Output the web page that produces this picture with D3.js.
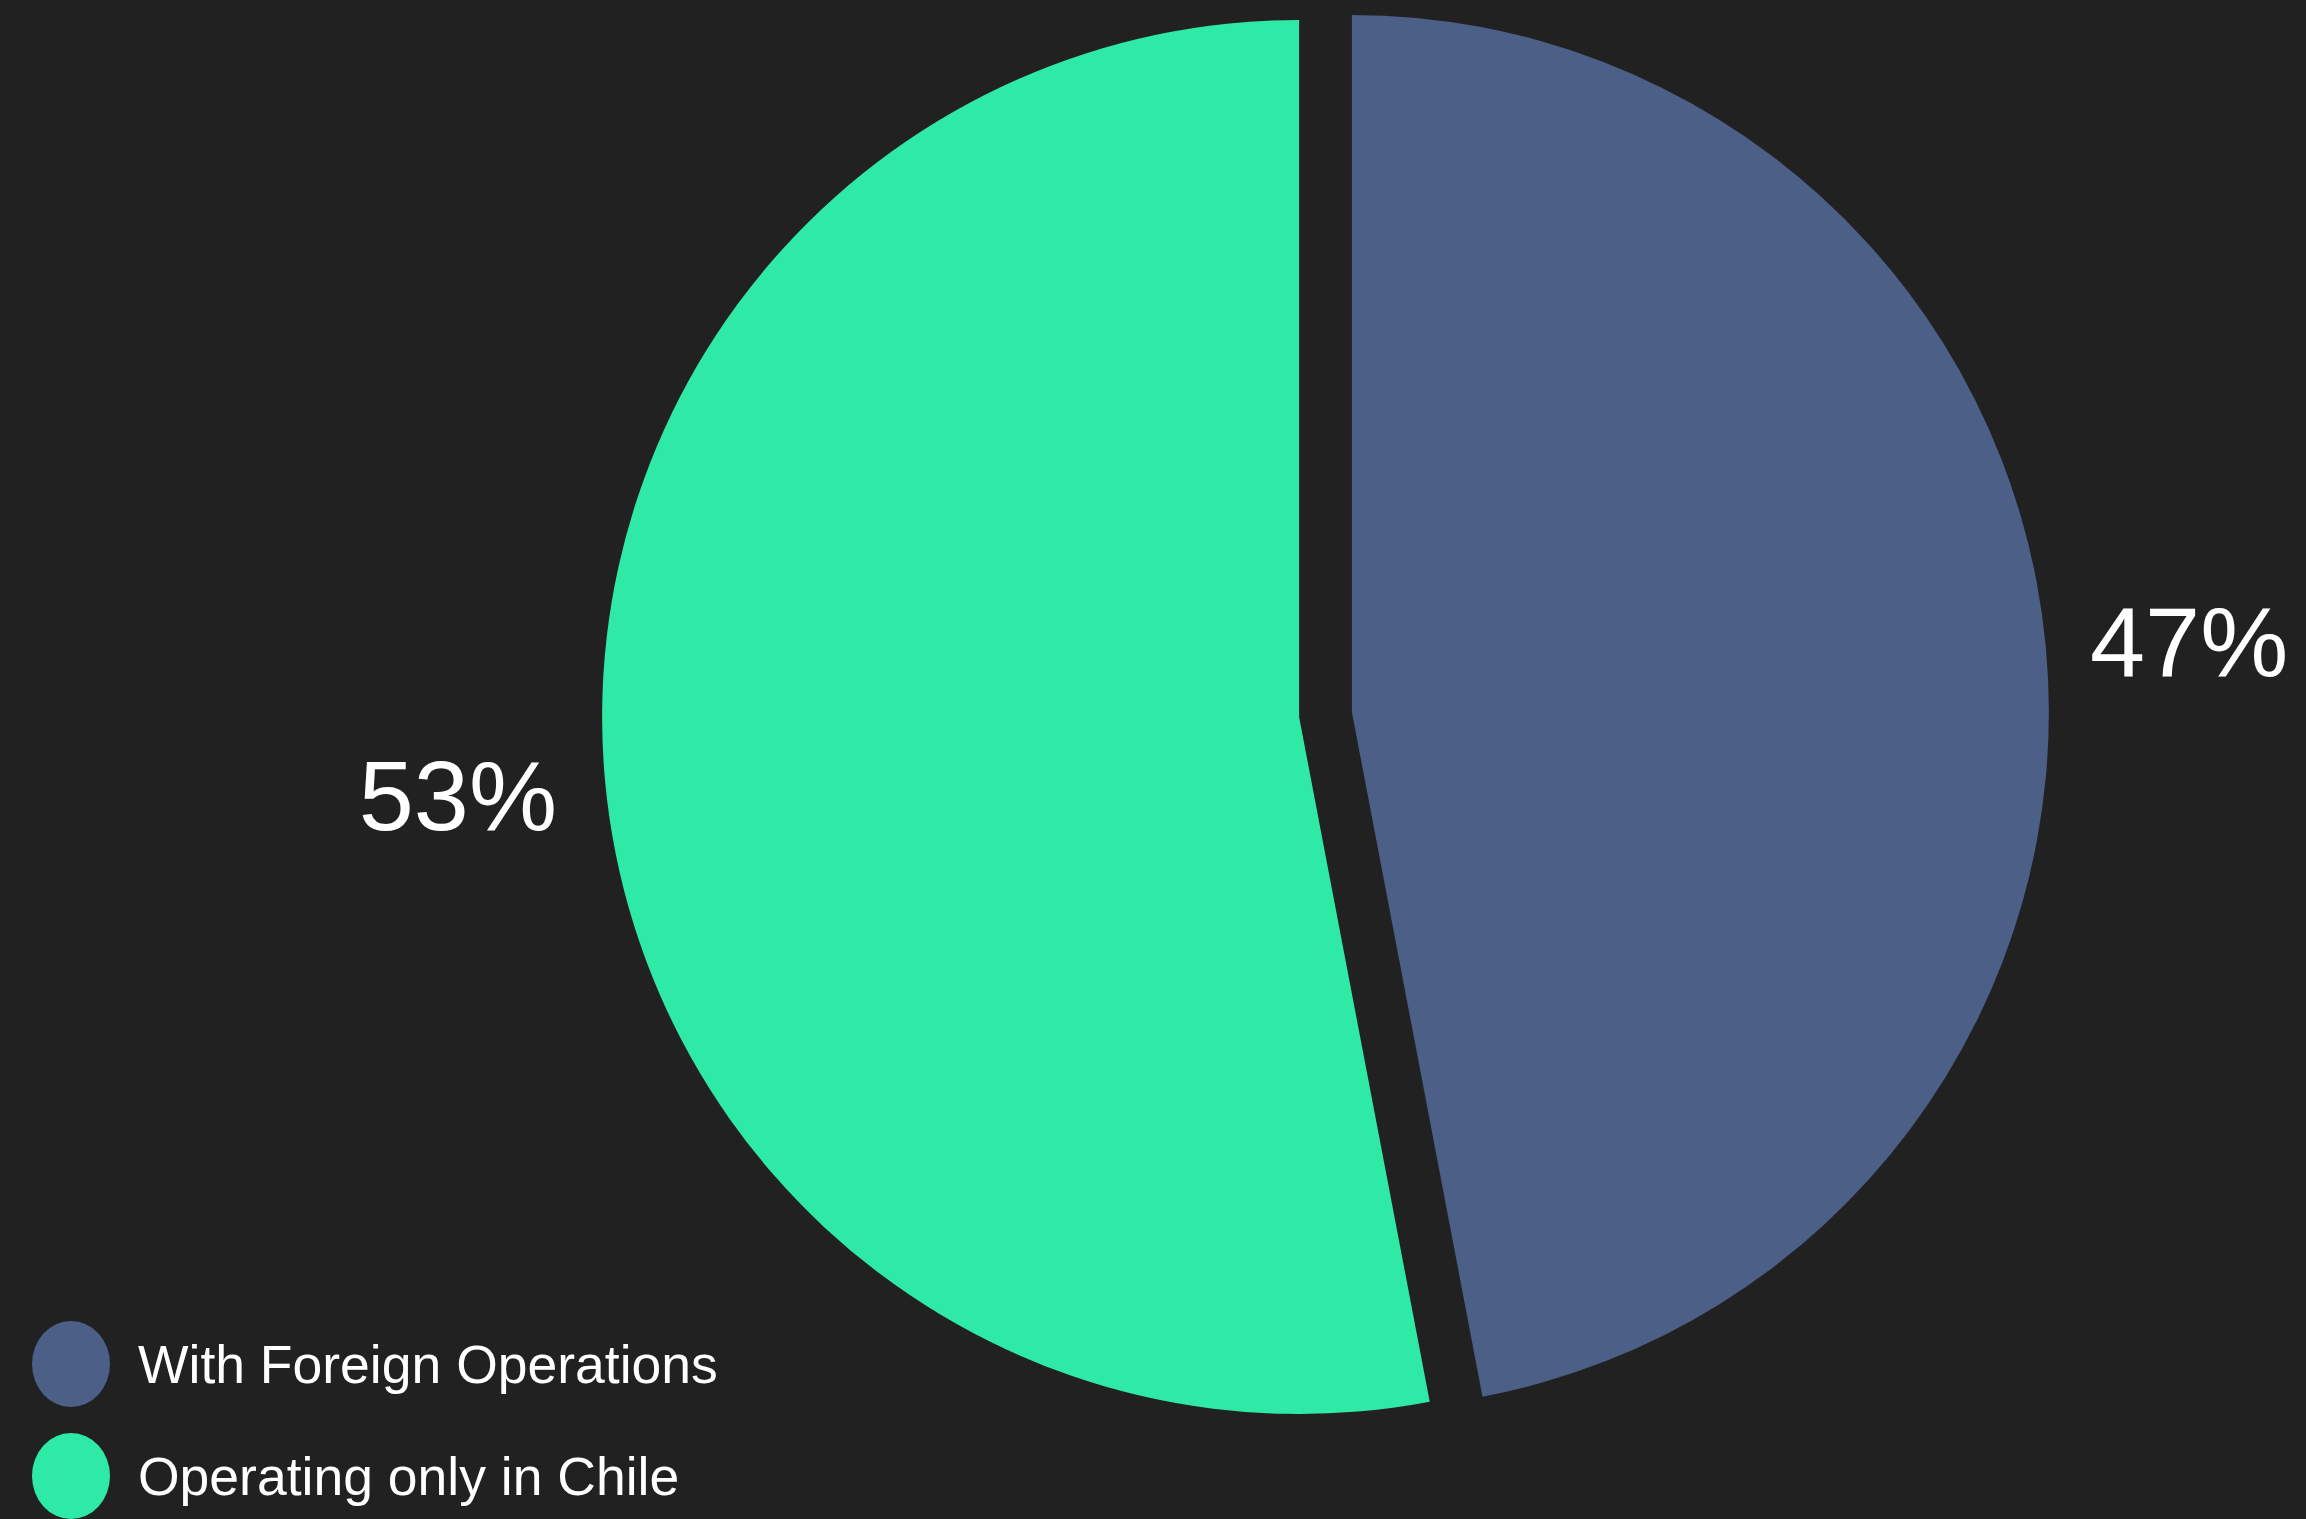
<!DOCTYPE html>
<html><head><meta charset="utf-8">
<script src="https://cdn.jsdelivr.net/npm/d3@7"></script>
<style>html,body{margin:0;padding:0;background:#212121;overflow:hidden}</style>
</head><body>
<svg id="c" width="2306" height="1519"></svg>
<script>
const categories = ["With Foreign Operations", "Operating only in Chile"];
const values = [47, 53];
const labels = ["47%", "53%"];
const colors = ["#4b5f87", "#2fe9a6"];

const W = 2306, H = 1519;
const svg = d3.select("#c");
svg.append("rect").attr("width", W).attr("height", H).attr("fill", "#212121");

const cx = 1325.5, cy = 714.5, R = 697, explode = 26.5, labelR = 843;
const pie = d3.pie().sort(null).value(d => d)(values);
const arc = d3.arc().innerRadius(0).outerRadius(R);

const g = svg.append("g").attr("transform", `translate(${cx},${cy})`);
pie.forEach((p, i) => {
  const mid = (p.startAngle + p.endAngle) / 2;
  const dx = Math.sin(mid) * explode, dy = -Math.cos(mid) * explode;
  const sg = g.append("g").attr("transform", `translate(${dx},${dy})`);
  sg.append("path").attr("d", arc(p)).attr("fill", colors[i]);
  sg.append("text")
    .attr("x", Math.sin(mid) * labelR - 2)
    .attr("y", -Math.cos(mid) * (labelR - 50) + 4)
    .attr("text-anchor", "middle")
    .attr("dominant-baseline", "central")
    .attr("font-family", "Liberation Sans, Arial, sans-serif")
    .attr("font-size", 99)
    .attr("fill", "#ffffff")
    .text(labels[i]);
});

const leg = svg.append("g");
categories.forEach((c, i) => {
  const y = 1364 + i * 112;
  leg.append("ellipse").attr("cx", 71).attr("cy", y).attr("rx", 39).attr("ry", 43).attr("fill", colors[i]);
  leg.append("text").attr("x", 138).attr("y", y + 19)
    .attr("font-family", "Liberation Sans, Arial, sans-serif")
    .attr("font-size", 53.5).attr("fill", "#ffffff").text(c);
});
</script>
</body></html>
